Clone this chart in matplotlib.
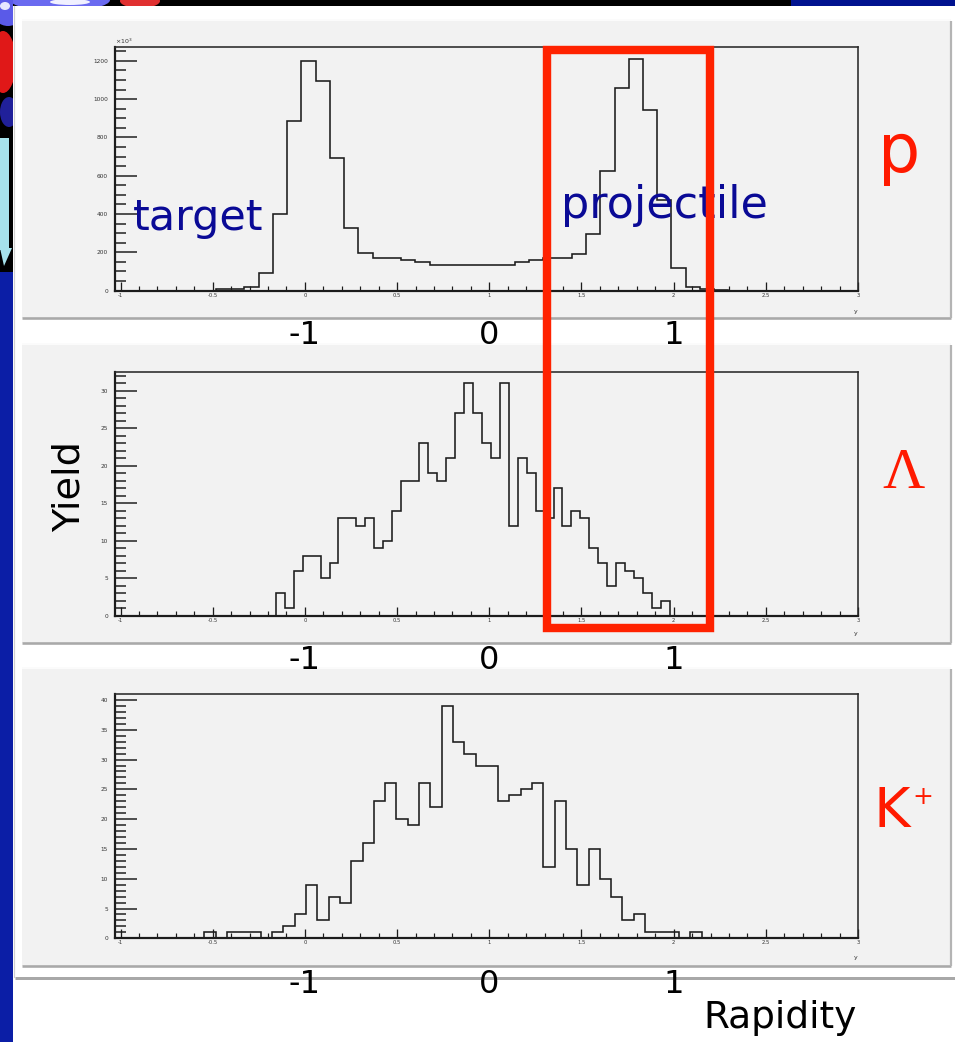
import numpy as np
import matplotlib
matplotlib.use("Agg")
import matplotlib.pyplot as plt
from matplotlib.patches import Rectangle, Ellipse, Polygon
from matplotlib.ticker import MultipleLocator, FixedLocator, FixedFormatter
from matplotlib import transforms

# ---------------- data ----------------
# proton rapidity distribution (lab frame), counts in units of 10^3
proton_start, proton_width = -0.482, 0.0772
proton_counts = [7, 7, 20, 90, 402, 885, 1200, 1095, 693, 329, 198, 172, 172,
                 160, 148, 135, 135, 135, 135, 135, 135, 148, 160, 169, 169,
                 190, 294, 627, 1057, 1210, 944, 473, 116, 17, 7, 3]

# Lambda rapidity distribution
lambda_start, lambda_width = -0.158, 0.0486
lambda_counts = [3, 1, 6, 8, 8, 5, 7, 13, 13, 12, 13, 9, 10, 14, 18, 18, 23,
                 19, 18, 21, 27, 31, 27, 23, 21, 31, 12, 21, 19, 14, 13, 17,
                 12, 14, 13, 9, 7, 4, 7, 6, 5, 3, 1, 2]

# K+ rapidity distribution
kaon_start, kaon_width = -0.5455, 0.0613
kaon_counts = [1, 0, 1, 1, 1, 0, 1, 2, 4, 9, 3, 7, 6, 13, 16, 23, 26, 20, 19,
               26, 22, 39, 33, 31, 29, 29, 23, 24, 25, 26, 12, 23, 15, 9, 15,
               10, 7, 3, 4, 1, 1, 1, 0, 1]

x_ticks = [-1, -0.5, 0, 0.5, 1, 1.5, 2, 2.5, 3]
x_tick_labels = ["-1", "-0.5", "0", "0.5", "1", "1.5", "2", "2.5", "3"]
proton_yticks = [0, 200, 400, 600, 800, 1000, 1200]
lambda_yticks = [0, 5, 10, 15, 20, 25, 30]
kaon_yticks = [0, 5, 10, 15, 20, 25, 30, 35, 40]

# centre-of-mass rapidity labels placed at the lab rapidities they correspond to
cm_positions = [0, 1, 2]
cm_labels = ["-1", "0", "1"]

# rapidity window highlighted around the projectile peak
window = (1.312, 2.196)

# ---------------- figure ----------------
W, H = 955, 1042
fig = plt.figure(figsize=(W / 100, H / 100), dpi=100, facecolor="white")


def box(l, t, r, b):
    return [l / W, 1 - b / H, (r - l) / W, (b - t) / H]


def pt(px):
    return px * 72 / 100


# background layer in pixel coordinates
bg = fig.add_axes([0, 0, 1, 1], zorder=0)
bg.set_xlim(0, W)
bg.set_ylim(H, 0)
bg.axis("off")

# slide backdrop: blue strip, picture corner, top strip
bg.add_patch(Rectangle((0, 0), 13.3, H, color="#0b1ea6", lw=0))
left_clip = Rectangle((0, 0), 13.3, 272, transform=bg.transData)
top_clip = Rectangle((13.3, 0), W, 6.3, transform=bg.transData)
left_parts = [
    Rectangle((0, 0), 13.3, 272, color="black", lw=0),
    Ellipse((8, 12), 30, 28, color="#5a5ae8", lw=0),
    Ellipse((5, 6), 10, 8, color="#e6e6ff", lw=0),
    Ellipse((3, 62), 26, 62, color="#e01818", lw=0),
    Ellipse((9, 112), 18, 30, color="#20209a", lw=0),
    Rectangle((0, 138), 9, 112, color="#a6e2ec", lw=0),
    Polygon([(0, 248), (12, 248), (4, 266)], closed=True, color="#a6e2ec", lw=0),
    Rectangle((0, 272), 13.3, 10, color="#0b1ea6", lw=0),
]
for p in left_parts:
    bg.add_patch(p)
    p.set_clip_path(left_clip)
top_parts = [
    Rectangle((13.3, 0), 778, 6.3, color="black", lw=0),
    Rectangle((791, 0), 164, 6.3, color="#00128f", lw=0),
    Ellipse((60, 0), 100, 22, color="#6a6af0", lw=0),
    Ellipse((70, 2), 40, 6, color="#f0f0ff", lw=0),
    Ellipse((140, 1), 40, 14, color="#e03030", lw=0),
]
for p in top_parts:
    bg.add_patch(p)
    p.set_clip_path(top_clip)

# canvas window
bg.add_patch(Rectangle((13.3, 6.3), W - 13.3, 971, color="white", lw=0))
bg.plot([15, W], [977.5, 977.5], color="#a8a8a8", lw=pt(3), solid_capstyle="butt")
bg.plot([14, 14], [6.3, 977], color="#d0d0d0", lw=pt(1.2))

# pads
pad_rows = [(19, 318), (343, 642.5), (667, 965.5)]
for t, b in pad_rows:
    bg.add_patch(Rectangle((22, t), 928.5, b - t, facecolor="#f2f2f2", lw=0))
    bg.plot([22, 951], [b, b], color="#a9a9a9", lw=pt(2.6), solid_capstyle="butt")
    bg.plot([950.7, 950.7], [t + 2, b], color="#b4b4b4", lw=pt(2.2), solid_capstyle="butt")
    bg.plot([22, 950], [t + 0.8, t + 0.8], color="white", lw=pt(1.5))

# histogram frames
frame_rows = [(47.3, 290.6), (371.7, 615.5), (694.3, 938.3)]
series = [
    (proton_start, proton_width, proton_counts, proton_yticks, 50, 1270.5),
    (lambda_start, lambda_width, lambda_counts, lambda_yticks, 1, 32.55),
    (kaon_start, kaon_width, kaon_counts, kaon_yticks, 1, 40.95),
]
axes = []
for (t, b), (x0, w, counts, yt, ymin_step, ytop) in zip(frame_rows, series):
    ax = fig.add_axes(box(115, t, 858, b), zorder=2)
    ax.set_facecolor("none")
    edges = x0 + w * np.arange(len(counts) + 1)
    ax.stairs(counts, edges, baseline=0, color="#1c1c1c", lw=pt(1.6))
    ax.set_xlim(-1.03, 3.0)
    ax.set_ylim(0, ytop)
    ax.xaxis.set_major_locator(FixedLocator(x_ticks))
    ax.xaxis.set_major_formatter(FixedFormatter(x_tick_labels))
    ax.xaxis.set_minor_locator(MultipleLocator(0.1))
    ax.yaxis.set_major_locator(FixedLocator(yt))
    ax.yaxis.set_minor_locator(MultipleLocator(ymin_step))
    ax.tick_params(axis="y", which="major", direction="in", length=pt(21.7),
                   width=pt(1.5), color="#1c1c1c", pad=pt(7), labelsize=4.2,
                   labelcolor="#333333")
    ax.tick_params(axis="y", which="minor", direction="in", length=pt(11),
                   width=pt(1.5), color="#1c1c1c")
    ax.tick_params(axis="x", which="major", direction="in", length=pt(9),
                   width=pt(1.3), color="#1c1c1c", pad=pt(2), labelsize=3.8,
                   labelcolor="#333333")
    ax.tick_params(axis="x", which="minor", direction="in", length=pt(5),
                   width=pt(1.2), color="#1c1c1c")
    for side in ("left", "bottom"):
        ax.spines[side].set_linewidth(pt(2.2))
        ax.spines[side].set_color("#1c1c1c")
    for side in ("top", "right"):
        ax.spines[side].set_linewidth(pt(1.6))
        ax.spines[side].set_color("#2a2a2a")
    axes.append(ax)

# overlay layer in pixel coordinates
fg = fig.add_axes([0, 0, 1, 1], zorder=5)
fg.set_xlim(0, W)
fg.set_ylim(H, 0)
fg.axis("off")
fg.patch.set_visible(False)

# small ROOT-style annotations
fg.text(115, 44, r"$\times10^{3}$", fontsize=4.5, color="#333333", ha="left", va="baseline")
for ytitle in (312, 634, 957):
    fg.text(856, ytitle, "y", fontsize=4.5, color="#333333", ha="center", va="center")

# centre-of-mass rapidity labels under each pad
slide_font = "DejaVu Sans"
for ax, base in zip(axes, (344, 669, 993)):
    tr = transforms.blended_transform_factory(ax.transData, fg.transData)
    for xv, lab in zip(cm_positions, cm_labels):
        fg.text(xv, base, lab, transform=tr, fontsize=23, family=slide_font,
                ha="center", va="baseline", color="black", zorder=6)

navy = "#0a0a96"
fg.text(133, 230, "target", fontsize=31, family=slide_font, color=navy,
        ha="left", va="baseline", zorder=6)
fg.text(561, 218, "projectile", fontsize=32, family=slide_font, color=navy,
        ha="left", va="baseline", zorder=6)

red = "#ff1a00"
fg.text(899, 172, "p", fontsize=48, family=slide_font, color=red,
        ha="center", va="baseline", zorder=6)
fg.text(904, 488, "Λ", fontsize=42, family="Liberation Serif", color=red,
        ha="center", va="baseline", zorder=6)
fg.text(910, 827, "K", fontsize=40, family=slide_font, color=red,
        ha="right", va="baseline", zorder=6)
fg.text(923, 797, "+", fontsize=18, family=slide_font, color=red,
        ha="center", va="center", zorder=6)

fg.text(70, 487, "Yield", fontsize=27.5, family=slide_font, color="black",
        rotation=90, ha="center", va="center", zorder=6)
fg.text(703, 1028, "Rapidity", fontsize=27, family=slide_font, color="black",
        ha="left", va="baseline", zorder=6)

# highlighted rapidity window spanning the p and Lambda pads
tr_top = transforms.blended_transform_factory(axes[0].transData, fg.transData)
fg.add_patch(Rectangle((window[0], 50), window[1] - window[0], 577.5,
                       transform=tr_top, fill=False, edgecolor="#ff2200",
                       lw=pt(8.4), joinstyle="miter", zorder=7))

fig.savefig("out.png", dpi=100, facecolor="white")
